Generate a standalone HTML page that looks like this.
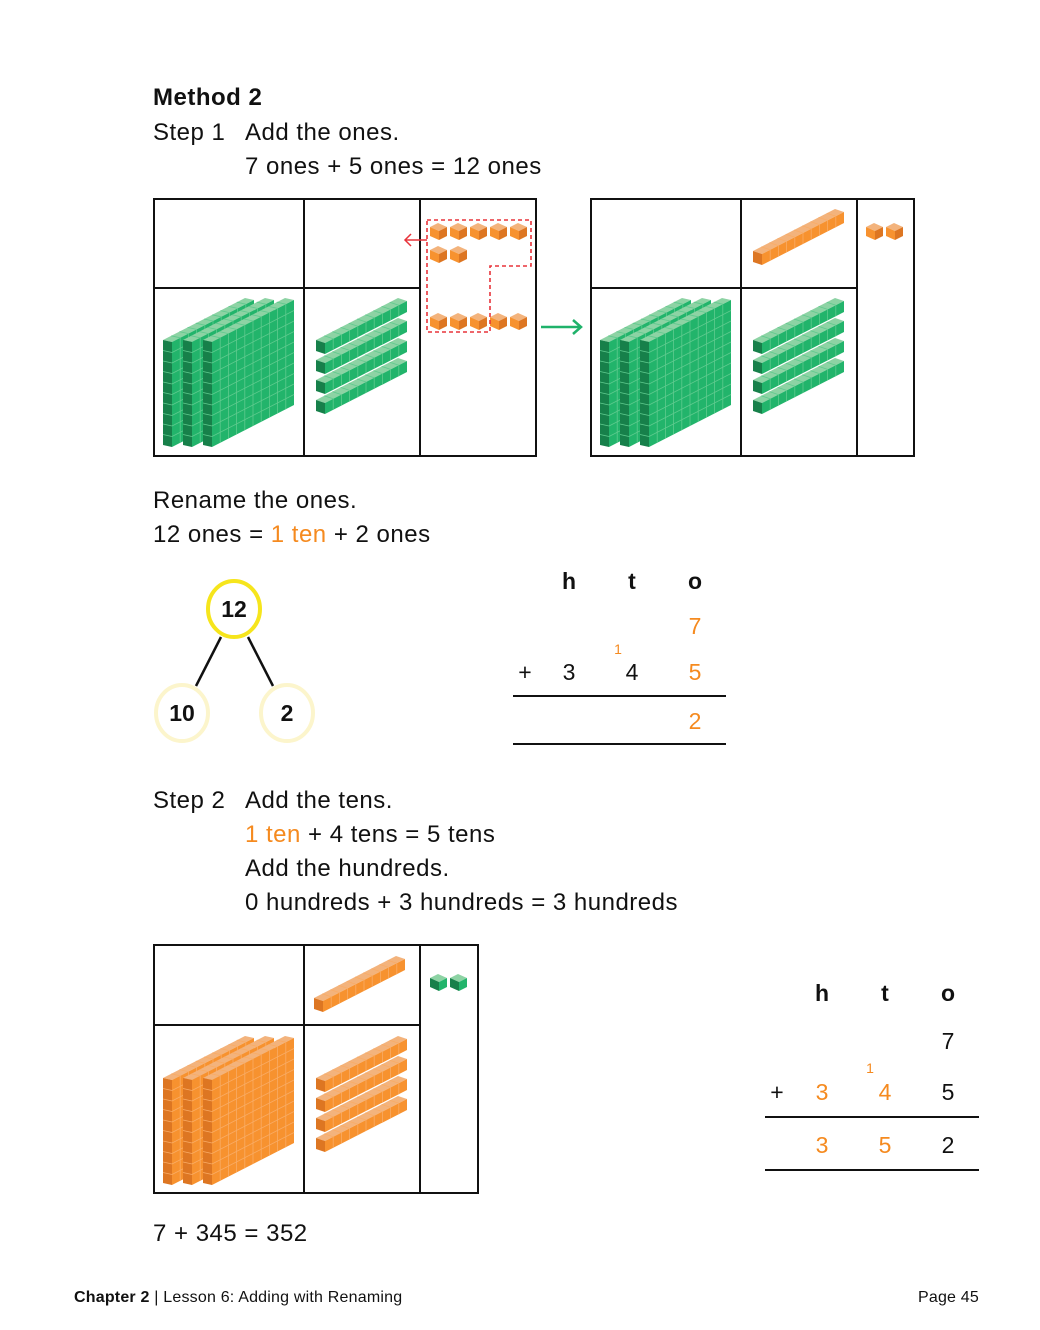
<!DOCTYPE html>
<html><head><meta charset="utf-8"><style>
html,body{margin:0;padding:0;background:#fff}
svg{display:block}
text{font-family:"Liberation Sans",sans-serif;fill:#111}
.o{fill:#f58a1f}
.b{font-weight:bold}
.m{font-size:24px;letter-spacing:0.5px}
</style></head><body>
<svg id="s" width="1040" height="1330" viewBox="0 0 1040 1330" xmlns="http://www.w3.org/2000/svg">
<g class="m">
<text x="153" y="105" class="b">Method 2</text>
<text x="153" y="140">Step 1</text>
<text x="245" y="140">Add the ones.</text>
<text x="245" y="174">7 ones + 5 ones = 12 ones</text>
<text x="153" y="508">Rename the ones.</text>
<text x="153" y="542">12 ones = <tspan class="o">1 ten</tspan> + 2 ones</text>
<text x="153" y="808">Step 2</text>
<text x="245" y="808">Add the tens.</text>
<text x="245" y="842"><tspan class="o">1 ten</tspan> + 4 tens = 5 tens</text>
<text x="245" y="876">Add the hundreds.</text>
<text x="245" y="910">0 hundreds + 3 hundreds = 3 hundreds</text>
<text x="153" y="1241">7 + 345 = 352</text>
</g>
<g font-size="16" letter-spacing="0.2">
<text x="74" y="1302"><tspan class="b">Chapter 2</tspan> | Lesson 6: Adding with Renaming</text>
<text x="979" y="1302" text-anchor="end">Page 45</text>
</g>
<g font-size="23" text-anchor="middle">
<text x="569" y="589" class="b">h</text><text x="632" y="589" class="b">t</text><text x="695" y="589" class="b">o</text>
<text x="695" y="634" class="o">7</text>
<text x="618" y="654" font-size="14" class="o">1</text>
<text x="525" y="680">+</text><text x="569" y="680">3</text><text x="632" y="680">4</text><text x="695" y="680" class="o">5</text>
<text x="695" y="729" class="o">2</text>
<text x="822" y="1001" class="b">h</text><text x="885" y="1001" class="b">t</text><text x="948" y="1001" class="b">o</text>
<text x="948" y="1049">7</text>
<text x="870" y="1073" font-size="14" class="o">1</text>
<text x="777" y="1100">+</text><text x="822" y="1100" class="o">3</text><text x="885" y="1100" class="o">4</text><text x="948" y="1100">5</text>
<text x="822" y="1153" class="o">3</text><text x="885" y="1153" class="o">5</text><text x="948" y="1153">2</text>
</g>
<g stroke="#111" stroke-width="2">
<line x1="513" y1="696" x2="726" y2="696"/><line x1="513" y1="744" x2="726" y2="744"/>
<line x1="765" y1="1117" x2="979" y2="1117"/><line x1="765" y1="1170" x2="979" y2="1170"/>
</g>
<g stroke="#111" stroke-width="2.5"><line x1="221" y1="637" x2="196" y2="686"/><line x1="248" y1="637" x2="273" y2="686"/></g>
<ellipse cx="234" cy="609" rx="26" ry="28" fill="#fff" stroke="#f6e51c" stroke-width="4"/>
<ellipse cx="182" cy="713" rx="26" ry="28" fill="#fff" stroke="#fcf5cc" stroke-width="4"/>
<ellipse cx="287" cy="713" rx="26" ry="28" fill="#fff" stroke="#fcf5cc" stroke-width="4"/>
<g font-size="23" text-anchor="middle">
<text x="234" y="617" class="b">12</text><text x="182" y="721" class="b">10</text><text x="287" y="721" class="b">2</text>
</g>
<g fill="none" stroke="#111" stroke-width="2">
<rect x="154" y="199" width="382" height="257"/><line x1="304" y1="199" x2="304" y2="456"/><line x1="420" y1="199" x2="420" y2="456"/><line x1="154" y1="288" x2="420" y2="288"/>
<rect x="591" y="199" width="323" height="257"/><line x1="741" y1="199" x2="741" y2="456"/><line x1="857" y1="199" x2="857" y2="456"/><line x1="591" y1="288" x2="857" y2="288"/>
<rect x="154" y="945" width="324" height="248"/><line x1="304" y1="945" x2="304" y2="1193"/><line x1="420" y1="945" x2="420" y2="1193"/><line x1="154" y1="1025" x2="420" y2="1025"/>
</g>
<g id="blocks"></g>
<path d="M427 220H531V266H490V332H427Z" fill="none" stroke="#e8333a" stroke-width="1.6" stroke-dasharray="4 3"/>
<g stroke="#e8333a" stroke-width="1.5" fill="none"><line x1="427" y1="240" x2="405" y2="240"/><path d="M411 234L405 240L411 246"/></g>
<g stroke="#1fb26a" stroke-width="2.5" fill="none"><line x1="541" y1="327" x2="581" y2="327"/><path d="M573 320L581 327L573 334"/></g>
</svg>
<script>
var NS="http://www.w3.org/2000/svg",G=document.getElementById("blocks");
var C={g:{top:"#8dd3a4",front:"#22b46b",side:"#17804a",line:"#5fca8e"},o:{top:"#f3b37c",front:"#f7922f",side:"#dd7622",line:"#f9ac66"}};
function poly(pts,fill,dx,dy){var p=document.createElementNS(NS,"polygon");p.setAttribute("points",pts.map(function(q){return (q[0]+dx)+","+(q[1]+dy)}).join(" "));p.setAttribute("fill",fill);G.appendChild(p)}
function line(x1,y1,x2,y2,c){var l=document.createElementNS(NS,"line");l.setAttribute("x1",x1);l.setAttribute("y1",y1);l.setAttribute("x2",x2);l.setAttribute("y2",y2);l.setAttribute("stroke",c);l.setAttribute("stroke-width","0.8");G.appendChild(l)}
function flat(x,y,c){c=C[c];
poly([[0,42],[82,0],[91,2],[9,44]],c.top,x,y);
poly([[9,44],[91,2],[91,107],[9,149]],c.front,x,y);
poly([[0,42],[9,44],[9,149],[0,147]],c.side,x,y);
for(var i=1;i<10;i++){var fx=9+8.2*i,fy=44-4.2*i;line(x+fx,y+fy,x+fx,y+fy+105,c.line);
var hy=44+10.5*i;line(x+9,y+hy,x+91,y+hy-42,c.line);line(x,y+42+10.5*i,x+9,y+hy,c.line);
line(x+fx-9,y+fy-2,x+fx,y+fy,c.line);}
}
function rod(x,y,c){c=C[c];
poly([[0,42],[82,0],[91,3],[9,45]],c.top,x,y);
poly([[9,45],[91,3],[91,14],[9,56]],c.front,x,y);
poly([[0,42],[9,45],[9,56],[0,53]],c.side,x,y);
for(var i=1;i<10;i++){var fx=9+8.2*i,fy=45-4.2*i;line(x+fx,y+fy,x+fx,y+fy+11,c.line);line(x+fx-9,y+fy-3,x+fx,y+fy,c.line);}
}
function cube(x,y,c,rev){c=C[c];
poly([[0,4],[8,0],[17,4],[9,8]],c.top,x,y);
poly([[0,4],[9,8],[9,17],[0,13]],rev?c.side:c.front,x,y);
poly([[9,8],[17,4],[17,13],[9,17]],rev?c.front:c.side,x,y);
}
[163,183,203].forEach(function(x){flat(x,298,"g")});
[163,183,203].forEach(function(x){flat(x+437,298,"g")});
[163,183,203].forEach(function(x){flat(x,1036,"o")});
[0,20,40,60].forEach(function(d){rod(316,298+d,"g");rod(753,298+d,"g");rod(316,1036+d,"o")});
rod(753,209,"o");rod(314,956,"o");
[430,450,470,490,510].forEach(function(x){cube(x,223,"o");cube(x,313,"o")});
cube(430,246,"o");cube(450,246,"o");
cube(866,223,"o");cube(886,223,"o");
cube(430,974,"g",true);cube(450,974,"g",true);
</script>
</body></html>
